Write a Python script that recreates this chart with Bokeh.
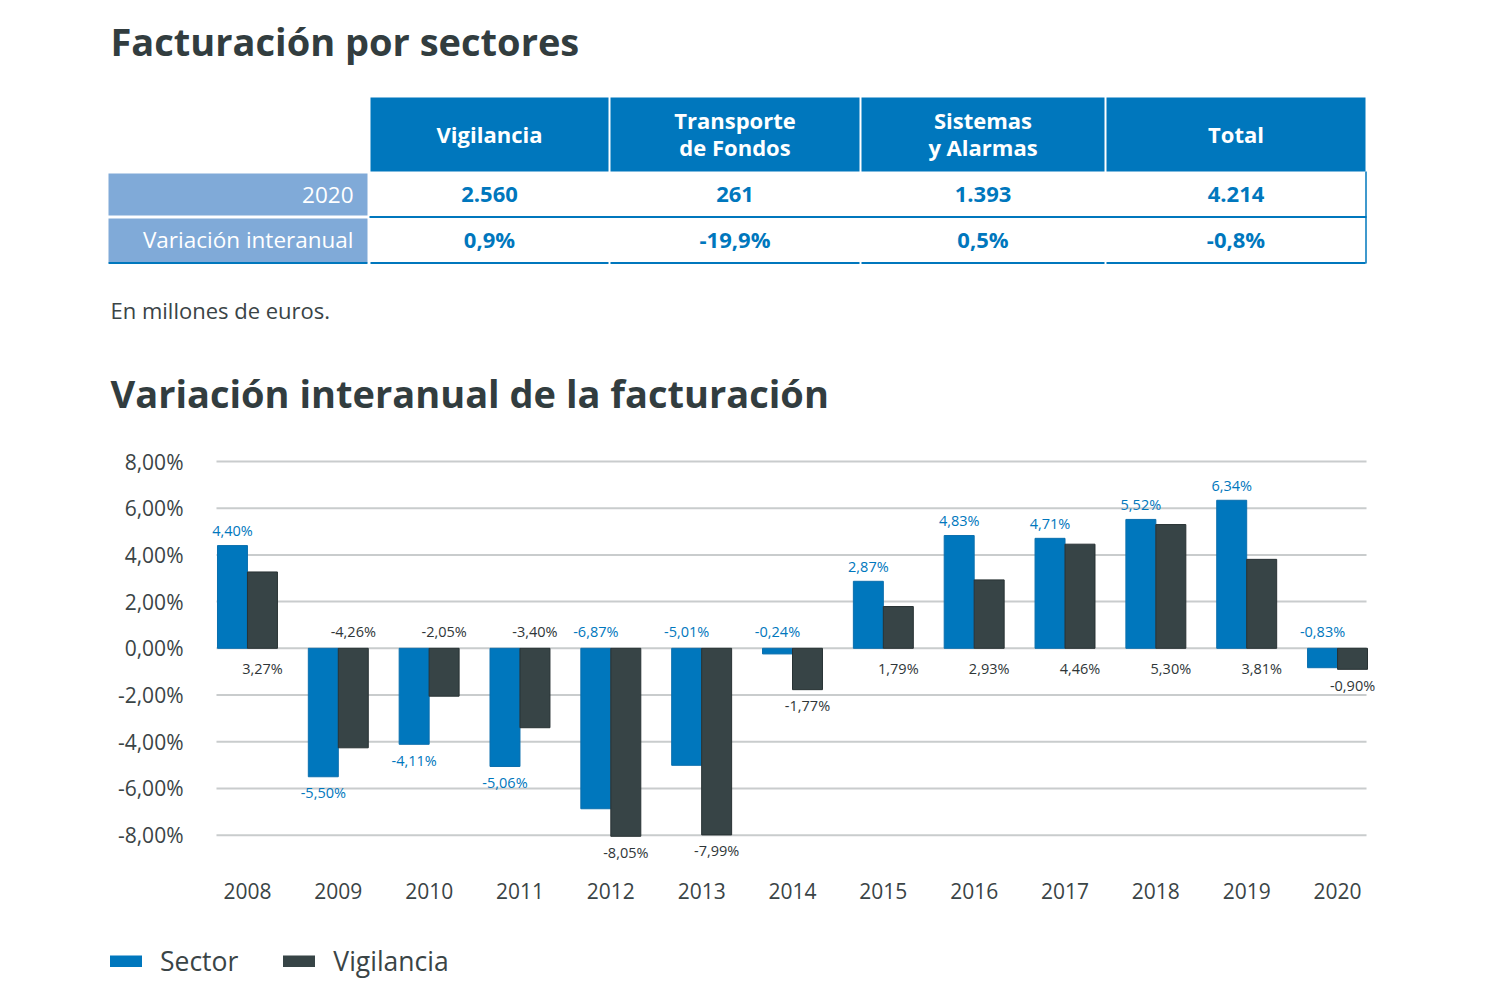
from bokeh.plotting import figure
from bokeh.layouts import column
from bokeh.models import ColumnDataSource, Range1d, FixedTicker, Legend, LegendItem
from bokeh.transform import dodge
from bokeh.core.properties import value
from bokeh.embed import file_html
from bokeh.resources import INLINE

# ---------------- data ----------------
years = [2008, 2009, 2010, 2011, 2012, 2013, 2014, 2015, 2016, 2017, 2018, 2019, 2020]
sector = [4.40, -5.50, -4.11, -5.06, -6.87, -5.01, -0.24, 2.87, 4.83, 4.71, 5.52, 6.34, -0.83]
vigilancia = [3.27, -4.26, -2.05, -3.40, -8.05, -7.99, -1.77, 1.79, 2.93, 4.46, 5.30, 3.81, -0.90]
y_ticks = [-8, -6, -4, -2, 0, 2, 4, 6, 8]

table_columns = ["Vigilancia", "Transporte\nde Fondos", "Sistemas\ny Alarmas", "Total"]
table_rows = ["2020", "Variación interanual"]
facturacion_2020 = [2560, 261, 1393, 4214]
variacion_2020 = [0.9, -19.9, 0.5, -0.8]

# label placement style: "end" = beyond the bar end, "base" = on the other side of zero
sector_label_at = ["end", "end", "end", "end", "base", "base", "base", "end", "end", "end", "end", "end", "base"]
vig_label_at = ["base", "base", "base", "base", "end", "end", "end", "base", "base", "base", "base", "base", "end"]

# ---------------- style ----------------
FONT = "Open Sans"
BLUE = "#0077bd"
LIGHT_BLUE = "#80aad8"
DARK = "#374446"
TITLE_C = "#323d3f"
TEXT_C = "#3a4446"
GRID_C = "#c9cccd"


def es_num(n):
    return f"{n:,}".replace(",", ".")


def es_pct(v, d):
    return f"{v:.{d}f}".replace(".", ",") + "%"


def no_align(fig):
    if "frame_align" in fig.properties():
        fig.frame_align = False


# ---------------- top part: titles + table ----------------
top = figure(width=1500, height=430, x_range=Range1d(0, 1500), y_range=Range1d(430, 0),
             x_axis_type=None, y_axis_type=None, output_backend="svg",
             toolbar_location=None, min_border=0)
top.grid.visible = False
top.outline_line_color = None
no_align(top)

top.text(x=[110, 110], y=[40, 392],
         text=["Facturación por sectores", "Variación interanual de la facturación"],
         text_font=value(FONT), text_font_style="bold", text_font_size="38px",
         text_color=TITLE_C, text_baseline="middle", text_align="left")
top.text(x=[110], y=[309], text=["En millones de euros."], text_font=value(FONT),
         text_font_size="22px", text_color=TEXT_C, text_baseline="middle")

col_edges = [108, 369, 609, 860, 1105, 1366]
head_top, head_bot = 97, 171
row_tops = [173, 218]
row_bots = [215, 262]

lefts = [e + 1 for e in col_edges[1:5]]
rights = [e - 1 for e in col_edges[2:6]]
centers = [(l + r) / 2 for l, r in zip(lefts, rights)]

top.quad(left=lefts, right=rights, top=[head_top] * 4, bottom=[head_bot] * 4,
         fill_color=BLUE, line_color=None)
top.text(x=centers, y=[133] * 4, text=table_columns, text_font=value(FONT),
         text_font_style="bold", text_font_size="22px", text_color="white",
         text_align="center", text_baseline="middle", text_line_height=0.9)

top.quad(left=[col_edges[0]] * 2, right=[col_edges[1] - 2] * 2, top=row_tops, bottom=row_bots,
         fill_color=LIGHT_BLUE, line_color=None)
row_c = [(t + b) / 2 for t, b in zip(row_tops, row_bots)]
top.text(x=[353, 353], y=[row_c[0], row_c[1] - 1], text=table_rows, text_font=value(FONT),
         text_font_size="22.5px", text_color="white", text_align="right", text_baseline="middle")

top.text(x=centers, y=[row_c[0]] * 4, text=[es_num(v) for v in facturacion_2020],
         text_font=value(FONT), text_font_style="bold", text_font_size="22px",
         text_color=BLUE, text_align="center", text_baseline="middle")
top.text(x=centers, y=[row_c[1] - 2] * 4, text=[es_pct(v, 1) for v in variacion_2020],
         text_font=value(FONT), text_font_style="bold", text_font_size="22px",
         text_color=BLUE, text_align="center", text_baseline="middle")

# table rules
top.segment(x0=[col_edges[1]], x1=[col_edges[5]], y0=[216.5], y1=[216.5],
            line_color=BLUE, line_width=2)
bl = [col_edges[0]] + lefts
br = [col_edges[1] - 2] + rights
top.segment(x0=bl, x1=br, y0=[262.5] * 5, y1=[262.5] * 5, line_color=BLUE, line_width=2)
top.segment(x0=[1365.5], x1=[1365.5], y0=[171], y1=[263], line_color=BLUE, line_width=1.5)

# ---------------- chart ----------------
PAD_L, PAD_R = 0.55, 0.55          # frame padding around first/last year (x units)
GRID_L, GRID_R = 0.341, 0.319      # visible extent of the horizontal grid lines
p = figure(width=1500, height=490,
           x_range=Range1d(years[0] - PAD_L, years[-1] + PAD_R), y_range=Range1d(-9.6, 8.6),
           output_backend="svg", toolbar_location=None,
           min_border_left=197, min_border_right=113, min_border_top=17, min_border_bottom=48)
p.outline_line_color = None
p.grid.visible = False
no_align(p)

p.yaxis.ticker = FixedTicker(ticks=y_ticks)
p.yaxis.major_label_overrides = {t: es_pct(t, 2) for t in y_ticks}
p.xaxis.ticker = FixedTicker(ticks=years)
p.xaxis.major_label_overrides = {y: str(y) for y in years}
for ax in (p.xaxis[0], p.yaxis[0]):
    ax.axis_line_color = None
    ax.major_tick_line_color = None
    ax.minor_tick_line_color = None
    ax.major_tick_in = 0
    ax.major_tick_out = 0
    ax.minor_tick_in = 0
    ax.minor_tick_out = 0
    ax.major_label_text_font = FONT
    ax.major_label_text_font_size = "21px"
    ax.major_label_text_color = TEXT_C
p.yaxis.major_label_standoff = 14
p.xaxis.major_label_standoff = 10

# horizontal grid lines
p.segment(x0=[years[0] - GRID_L] * len(y_ticks), x1=[years[-1] + GRID_R] * len(y_ticks),
          y0=y_ticks, y1=y_ticks, line_color=GRID_C, line_width=2)

BW = 0.33


def label_geom(vals, where):
    ys, offs = [], []
    for v, w in zip(vals, where):
        if w == "end":
            ys.append(v)
            offs.append(-15 if v > 0 else 16)
        else:
            ys.append(0)
            offs.append(20 if v > 0 else -17)
    return ys, offs


s_y, s_off = label_geom(sector, sector_label_at)
v_y, v_off = label_geom(vigilancia, vig_label_at)

src = ColumnDataSource(dict(
    year=years, sector=sector, vigilancia=vigilancia,
    s_txt=[es_pct(v, 2) for v in sector], v_txt=[es_pct(v, 2) for v in vigilancia],
    s_y=s_y, s_off=s_off, v_y=v_y, v_off=v_off,
))

p.vbar(x=dodge("year", -BW / 2), top="sector", bottom=0, width=BW, source=src,
       fill_color=BLUE, line_color="#0a6fae", line_width=1)
p.vbar(x=dodge("year", BW / 2), top="vigilancia", bottom=0, width=BW, source=src,
       fill_color=DARK, line_color="#283234", line_width=1)

p.text(x=dodge("year", -BW / 2), y="s_y", y_offset="s_off", text="s_txt", source=src,
       text_font=value(FONT), text_font_size="14.5px", text_color=BLUE,
       text_align="center", text_baseline="middle")
p.text(x=dodge("year", BW / 2), y="v_y", y_offset="v_off", text="v_txt", source=src,
       text_font=value(FONT), text_font_size="14.5px", text_color="#2f3638",
       text_align="center", text_baseline="middle")

# ---------------- legend strip ----------------
# (the strip's ranges are chosen so its proxy lines fall outside the view; only the legend shows)
leg = figure(width=1500, height=80, x_range=Range1d(0, 1), y_range=Range1d(0, 1),
             x_axis_type=None, y_axis_type=None, output_backend="svg",
             toolbar_location=None, min_border=0)
leg.grid.visible = False
leg.outline_line_color = None
no_align(leg)
l1 = leg.line("year", "sector", source=src, line_color=BLUE, line_width=12, line_cap="round")
l2 = leg.line("year", "vigilancia", source=src, line_color=DARK, line_width=12, line_cap="round")
legend = Legend(items=[LegendItem(label="Sector", renderers=[l1]),
                       LegendItem(label="Vigilancia", renderers=[l2])],
                orientation="horizontal", location=(110, 21),
                glyph_width=32, glyph_height=12, label_standoff=18, spacing=45,
                padding=0, margin=0, border_line_color=None, background_fill_alpha=0,
                label_text_font=FONT, label_text_font_size="26.5px", label_text_color=TEXT_C)
leg.add_layout(legend)

layout = column(top, p, leg, spacing=0)
open("out.html", "w").write(file_html(layout, INLINE))
